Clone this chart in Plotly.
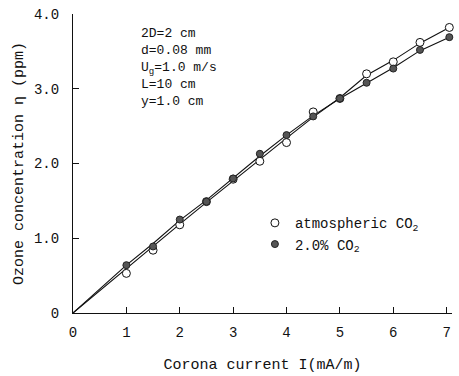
import plotly.graph_objects as go

# Measured data
x_pts = [1.0, 1.5, 2.0, 2.5, 3.0, 3.5, 4.0, 4.5, 5.0, 5.5, 6.0, 6.5, 7.05]
co2_atm = [0.53, 0.84, 1.18, 1.49, 1.79, 2.03, 2.28, 2.69, 2.87, 3.20, 3.36, 3.62, 3.82]
co2_20 = [0.64, 0.89, 1.25, 1.49, 1.80, 2.13, 2.38, 2.63, 2.87, 3.08, 3.27, 3.52, 3.69]

# Fitted curves drawn through the data
x_fit = [0, 1.0, 1.5, 2.0, 2.5, 3.0, 3.5, 4.0, 4.5, 5.0, 5.5, 6.0, 6.5, 7.05]
fit_atm = [0, 0.60, 0.89, 1.19, 1.48, 1.77, 2.06, 2.34, 2.62, 2.88, 3.18, 3.38, 3.61, 3.82]
fit_20 = [0, 0.64, 0.93, 1.24, 1.51, 1.81, 2.10, 2.38, 2.64, 2.87, 3.08, 3.28, 3.51, 3.69]

x_ticks = [0, 1, 2, 3, 4, 5, 6, 7]
x_ticktext = ["0", "1", "2", "3", "4", "5", "6", "7"]
y_ticks = [0, 1, 2, 3, 4]
y_ticktext = ["0", "1.0", "2.0", "3.0", "4.0"]

params = ["2D=2 cm", "d=0.08 mm", "U<sub>g</sub>=1.0 m/s", "L=10 cm", "y=1.0 cm"]

FONT = "Liberation Mono"

fig = go.Figure()
fig.add_trace(go.Scatter(x=x_fit, y=fit_atm, mode="lines",
                         line=dict(color="#111", width=1.1), showlegend=False, hoverinfo="skip"))
fig.add_trace(go.Scatter(x=x_fit, y=fit_20, mode="lines",
                         line=dict(color="#111", width=1.1), showlegend=False, hoverinfo="skip"))
fig.add_trace(go.Scatter(x=x_pts, y=co2_atm, mode="markers", name="atmospheric CO<sub>2</sub>",
                         marker=dict(symbol="circle", size=8, color="white",
                                     line=dict(color="#111", width=1)), cliponaxis=False))
fig.add_trace(go.Scatter(x=x_pts, y=co2_20, mode="markers", name="2.0% CO<sub>2</sub>",
                         marker=dict(symbol="circle", size=7, color="#555",
                                     line=dict(color="#222", width=1)), cliponaxis=False))

fig.update_layout(
    width=459, height=376,
    margin=dict(l=73, r=7, t=13, b=59),
    paper_bgcolor="white", plot_bgcolor="white",
    font=dict(family=FONT, size=14, color="#111"),
    showlegend=True,
    legend=dict(x=0.48, y=0.265, xanchor="left", yanchor="middle",
                bgcolor="rgba(0,0,0,0)", itemwidth=30, tracegroupgap=0,
                font=dict(family=FONT, size=14), itemclick=False),
    xaxis=dict(range=[0, 7.1], tickvals=x_ticks, ticktext=x_ticktext,
               ticks="inside", ticklen=6, tickcolor="#111", tickwidth=1,
               showline=True, linecolor="#111", linewidth=1.2,
               showgrid=False, zeroline=False, ticklabelstandoff=6,
               title=dict(text="Corona current I(mA/m)", font=dict(family=FONT, size=15), standoff=18)),
    yaxis=dict(range=[0, 4.0], tickvals=y_ticks, ticktext=y_ticktext,
               ticks="inside", ticklen=6, tickcolor="#111", tickwidth=1,
               showline=True, linecolor="#111", linewidth=1.2,
               showgrid=False, zeroline=False, ticklabelstandoff=10,
               title=dict(text="Ozone concentration η (ppm)", font=dict(family=FONT, size=15), standoff=6)),
)

fig.add_annotation(xref="paper", yref="paper", x=(139 - 73) / 379, y=(316.7 - 23) / 303.7,
                   xanchor="left", yanchor="top", align="left", showarrow=False,
                   text="<br>".join(params), font=dict(family=FONT, size=13))

fig.write_html("out.html")
